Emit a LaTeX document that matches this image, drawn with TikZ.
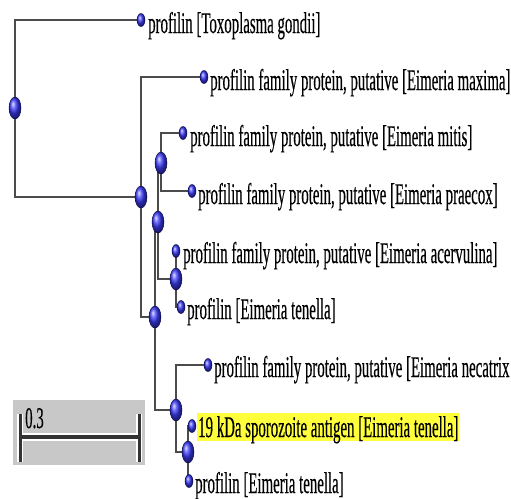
\documentclass[tikz,border=0pt]{standalone}
\usepackage{fontspec}
\setmainfont{Liberation Serif}[FakeStretch=0.495, FakeBold=0.3]
\usetikzlibrary{shapes.geometric,backgrounds}
\definecolor{hl}{RGB}{255,255,60}
\definecolor{edgecol}{RGB}{75,75,75}
\definecolor{boxgray}{RGB}{200,200,200}
\definecolor{ballblue}{RGB}{60,60,250}
\begin{document}
\begin{tikzpicture}[x=1pt,y=-1pt,
  inode/.style={ellipse, minimum width=12pt, minimum height=22pt, inner sep=0pt,
    shading=ball, ball color=ballblue, draw=blue!25!black, line width=0.4pt},
  lnode/.style={ellipse, minimum width=8pt, minimum height=13pt, inner sep=0pt,
    shading=ball, ball color=ballblue, draw=blue!25!black, line width=0.4pt},
  lbl/.style={anchor=base west, inner sep=0pt, font=\fontsize{30}{32}\selectfont},
  edge/.style={draw=edgecol, line width=2.7pt}
]
\useasboundingbox (0,0) rectangle (511,498);

% scale bar box
\node[fill=boxgray, minimum width=132pt, minimum height=65pt, anchor=north west, inner sep=0pt] (sbox) at (13,400) {};
\coordinate (s1t) at (20,414);
\coordinate (s1b) at (20,462);
\coordinate (s2t) at (139,414);
\coordinate (s2b) at (139,462);
\coordinate (sl) at (20,437);
\coordinate (sr) at (139,437);
\draw[white, line width=6pt] (s1t) -- (s1b) (s2t) -- (s2b);
\draw[white, line width=8pt] (sl) -- (sr);
\draw[black!80, line width=3pt] (s1t) -- (s1b) (s2t) -- (s2b);
\draw[black!80, line width=4.5pt] (sl) -- (sr);
\node[anchor=base west, inner sep=0pt, font=\fontsize{30}{32}\selectfont] (slabel) at (25,428) {0.3};

% internal nodes
\node[inode] (R) at (15,108) {};
\node[inode] (A) at (141,197) {};
\node[inode] (B) at (155,317) {};
\node[inode] (C) at (158,222) {};
\node[inode] (E) at (161,163) {};
\node[inode] (D) at (176,279) {};
\node[inode] (G) at (176,410) {};
\node[inode] (H) at (188,452) {};

% leaf dots
\node[lnode] (L1) at (141,20) {};
\node[lnode] (L2) at (204,77) {};
\node[lnode] (L3) at (183,133) {};
\node[lnode] (L4) at (192,191) {};
\node[lnode] (L5) at (176,251) {};
\node[lnode] (L6) at (181,307) {};
\node[lnode] (L7) at (208,365) {};
\node[lnode] (L8) at (192,426) {};
\node[lnode] (L9) at (189,481) {};

% labels
\node[lbl] (T1) at (148,33) {profilin [Toxoplasma gondii]};
\node[lbl] (T2) at (210,90) {profilin family protein, putative [Eimeria maxima]};
\node[lbl] (T3) at (190,146) {profilin family protein, putative [Eimeria mitis]};
\node[lbl] (T4) at (198,204) {profilin family protein, putative [Eimeria praecox]};
\node[lbl] (T5) at (183,263) {profilin family protein, putative [Eimeria acervulina]};
\node[lbl] (T6) at (187,319) {profilin [Eimeria tenella]};
\node[lbl] (T7) at (214,377) {profilin family protein, putative [Eimeria necatrix};
\node[lbl, fill=hl, text height=24pt, text depth=4pt, inner xsep=1pt] (T8) at (197,437) {19 kDa sporozoite antigen [Eimeria tenella]};
\node[lbl] (T9) at (195,493) {profilin [Eimeria tenella]};

\begin{pgfonlayer}{background}
\draw[edge] (R.center) |- (L1.center);
\draw[edge] (R.center) |- (A.center);
\draw[edge] (A.center) |- (L2.center);
\draw[edge] (A.center) |- (B.center);
\draw[edge] (B.center) |- (C.center);
\draw[edge] (B.center) |- (G.center);
\draw[edge] (C.center) |- (E.center);
\draw[edge] (C.center) |- (D.center);
\draw[edge] (E.center) |- (L3.center);
\draw[edge] (E.center) |- (L4.center);
\draw[edge] (D.center) |- (L5.center);
\draw[edge] (D.center) |- (L6.center);
\draw[edge] (G.center) |- (L7.center);
\draw[edge] (G.center) |- (H.center);
\draw[edge] (H.center) |- (L8.center);
\draw[edge] (H.center) |- (L9.center);
\end{pgfonlayer}
\end{tikzpicture}
\end{document}
